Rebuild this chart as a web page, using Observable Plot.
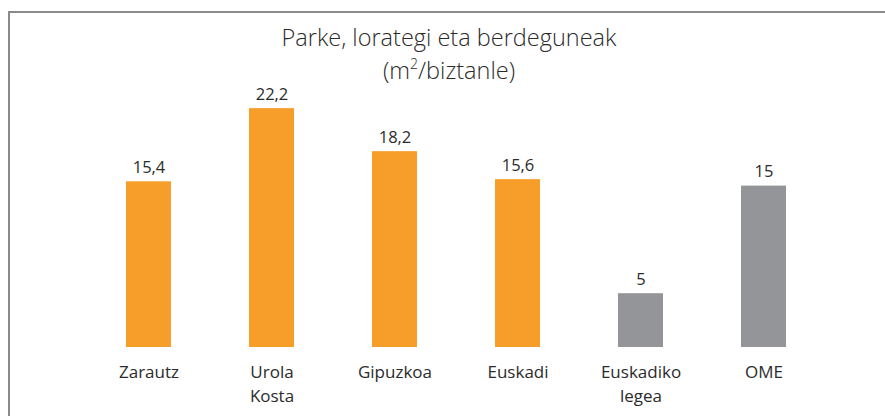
<!DOCTYPE html>
<html>
<head>
<meta charset="utf-8">
<script src="https://cdn.jsdelivr.net/npm/d3@7"></script>
<script src="https://cdn.jsdelivr.net/npm/@observablehq/plot@0.6"></script>
<style>
  html, body { margin: 0; padding: 0; background: #fff; }
  #wrap { position: relative; width: 885px; height: 416px; overflow: hidden; font-family: "Open Sans", sans-serif; }
  #frame { position: absolute; left: 8px; top: 11px; width: 900px; height: 420px; border-left: 2px solid #8a8a8a; border-top: 2px solid #8a8a8a; box-sizing: border-box; }
  #title { position: absolute; left: 13px; right: 0; top: 21px; text-align: center; font-size: 23.5px; line-height: 33px; color: #2b2b2b; font-weight: 300; }
  #title sup { font-size: 14px; vertical-align: 10px; line-height: 0; }
  #chart { position: absolute; left: 0; top: 0; }
</style>
</head>
<body>
<div id="wrap">
  <div id="frame"></div>
  <div id="chart"></div>
  <div id="title">Parke, lorategi eta berdeguneak<br>(m<sup>2</sup>/biztanle)</div>
</div>
<script>
const categories = ["Zarautz", "Urola\nKosta", "Gipuzkoa", "Euskadi", "Euskadiko\nlegea", "OME"];
const values = [15.4, 22.2, 18.2, 15.6, 5, 15];
const groups = ["area", "area", "area", "area", "ref", "ref"];
const valueLabels = ["15,4", "22,2", "18,2", "15,6", "5", "15"];

const data = categories.map((c, i) => ({cat: c, value: values[i], group: groups[i], label: valueLabels[i]}));

const chart = Plot.plot({
  width: 885,
  height: 416,
  marginTop: 78,
  marginBottom: 69,
  marginLeft: 47,
  marginRight: 20,
  style: {fontFamily: "'Open Sans', sans-serif", background: "transparent", color: "#2b2b2b"},
  x: {domain: categories, padding: 0.635, axis: null},
  y: {domain: [0, 25], axis: null},
  color: {domain: ["area", "ref"], range: ["#F79D29", "#939598"]},
  marks: [
    Plot.barY(data, {x: "cat", y: "value", fill: "group"}),
    Plot.text(data, {x: "cat", y: "value", text: "label", dy: -9, lineAnchor: "bottom", fontSize: 16.5, fill: "#2b2b2b"}),
    Plot.text(data, {x: "cat", y: () => 0, text: "cat", dy: 14, lineAnchor: "top", lineHeight: 1.38, fontSize: 17, fill: "#2b2b2b"})
  ]
});
document.getElementById("chart").appendChild(chart);
</script>
</body>
</html>
